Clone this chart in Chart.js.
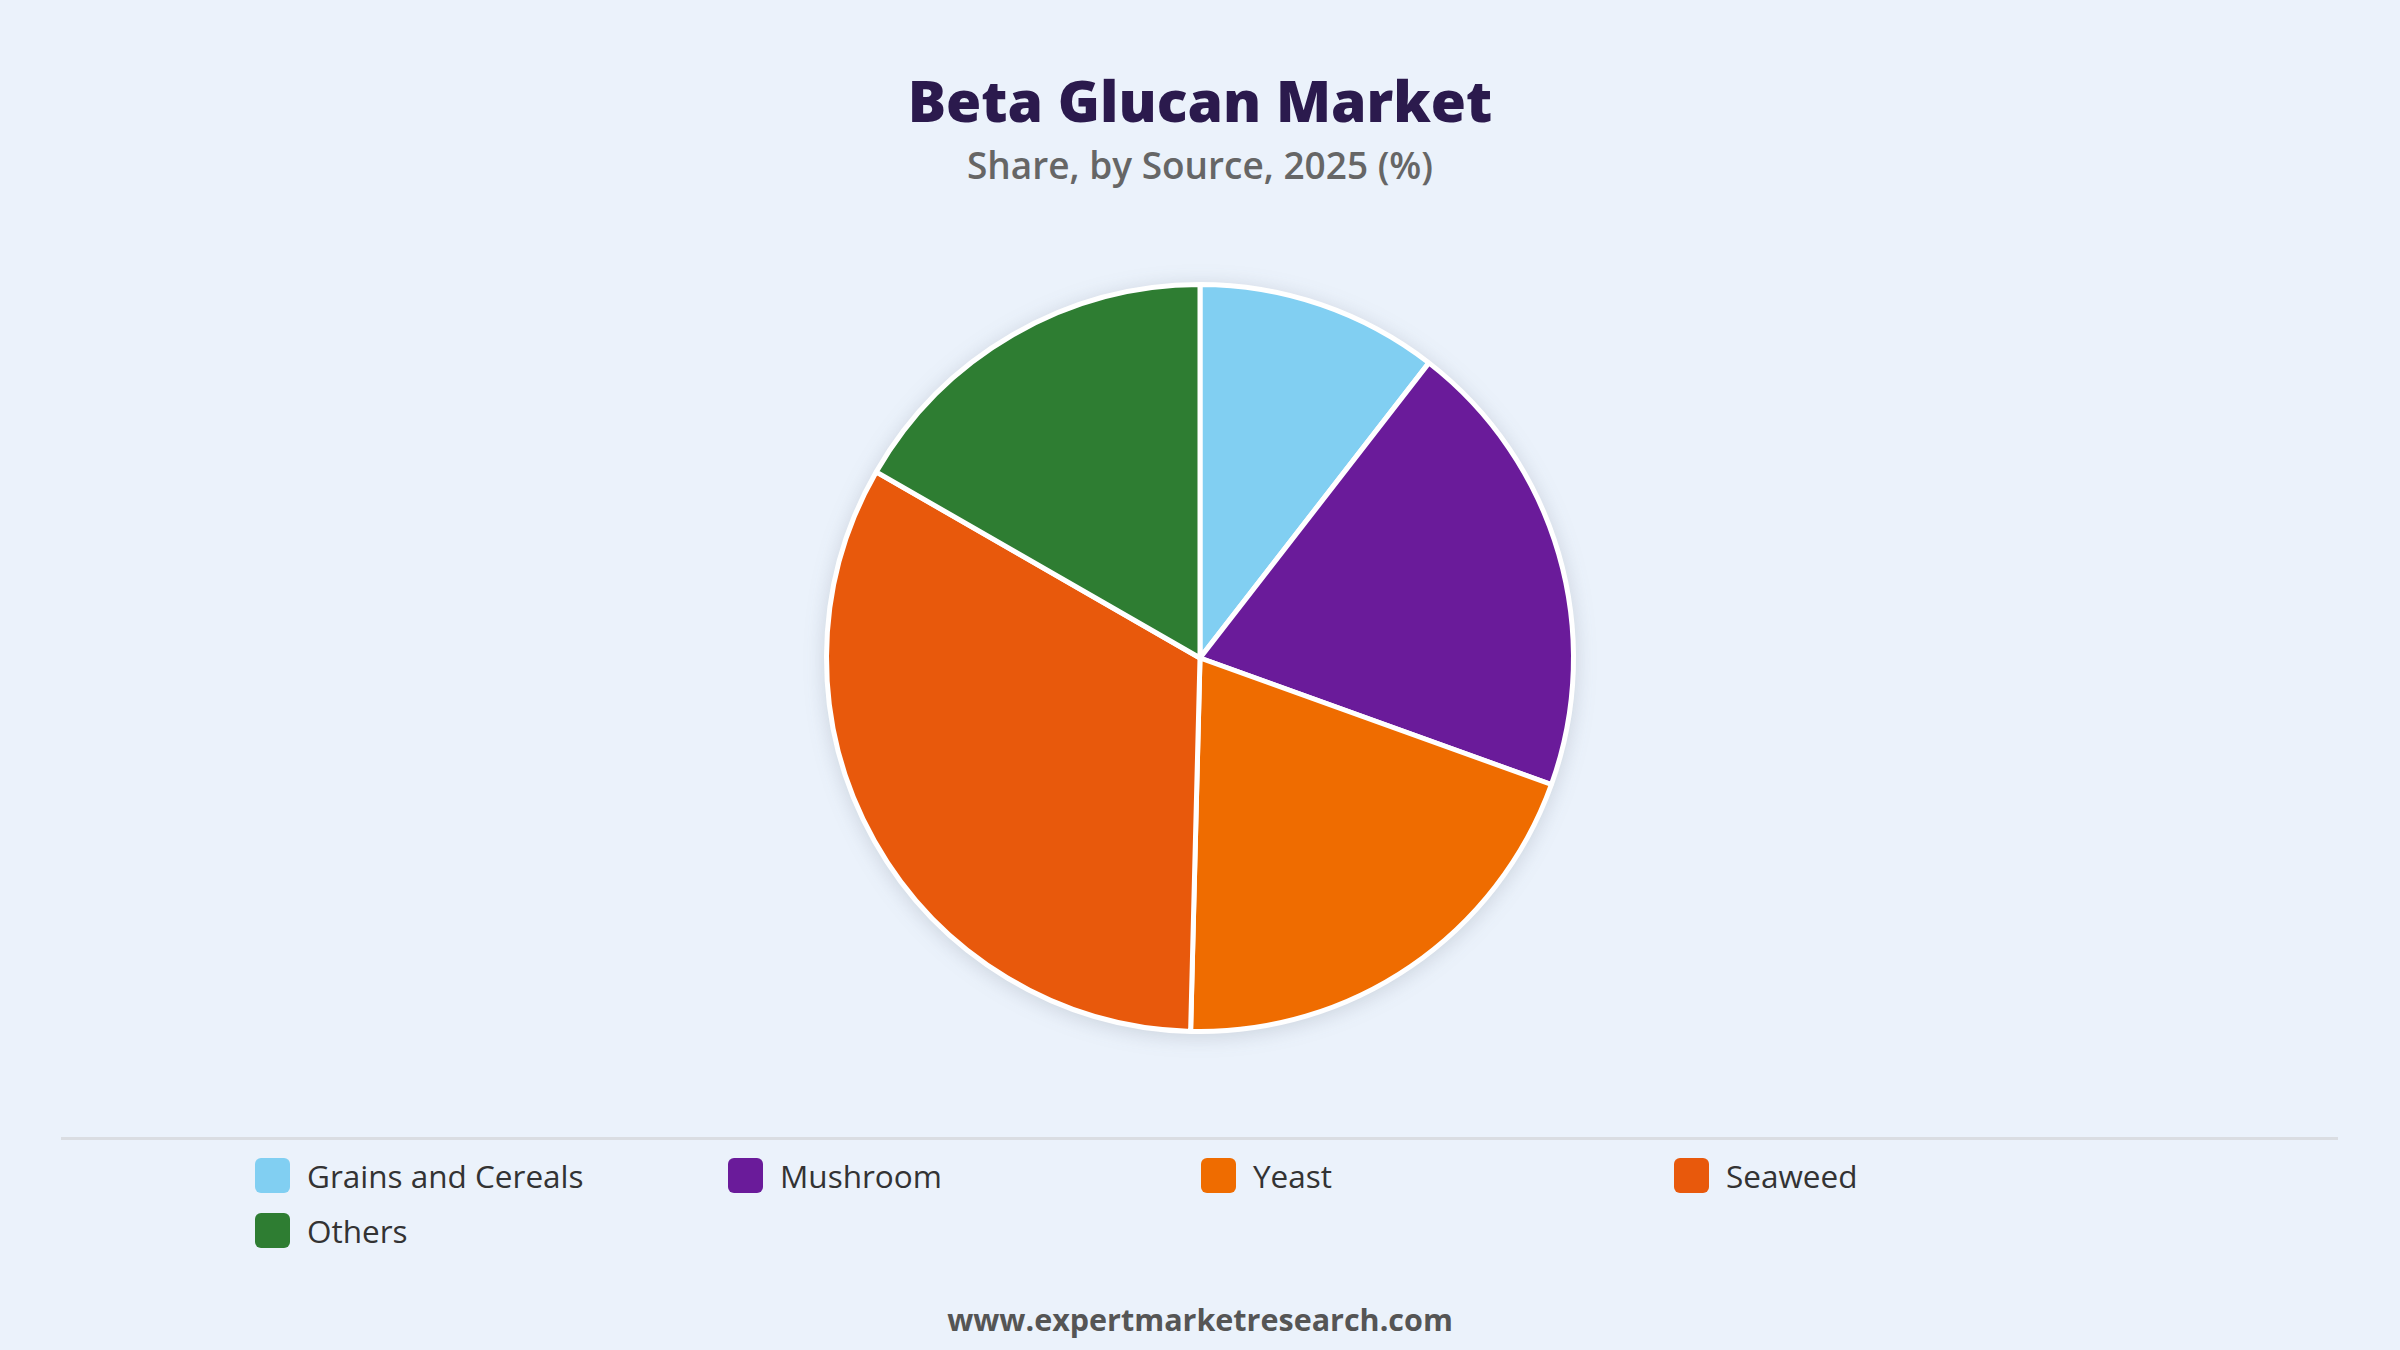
<!DOCTYPE html>
<html>
<head>
<meta charset="utf-8">
<script src="https://cdn.jsdelivr.net/npm/chart.js@4.4.1/dist/chart.umd.min.js"></script>
<style>
  html, body { margin:0; padding:0; }
  body { width:2400px; height:1350px; background:#ebf2fb; position:relative; overflow:hidden; font-family:"Open Sans","Noto Sans",sans-serif; }
  #title { position:absolute; left:0; width:2400px; top:62px; text-align:center; font-weight:800; font-size:57px; color:#2b1a4d; line-height:76px; }
  #subtitle { position:absolute; left:0; width:2400px; top:141px; text-align:center; font-size:37px; font-weight:600; color:#666; line-height:48px; }
  #chartWrap { position:absolute; left:0; top:262px; width:2400px; height:792px; }
  #chartWrap canvas { filter: drop-shadow(0 3px 10px rgba(60,70,90,0.18)); }
  #sep { position:absolute; left:61px; width:2277px; top:1137px; height:3px; background:#dadde2; }
  #legend { position:absolute; left:255px; top:1155px; display:grid; grid-template-columns:repeat(4, 473px); row-gap:15px; }
  .item { display:flex; align-items:center; height:40px; font-size:31.5px; color:#333; }
  .box { width:35px; height:35px; border-radius:6px; margin-right:17px; flex:none; }
  #footer { position:absolute; left:0; width:2400px; top:1297px; text-align:center; font-weight:700; font-size:30.5px; color:#555; line-height:44px; }
</style>
</head>
<body>
<div id="title">Beta Glucan Market</div>
<div id="subtitle">Share, by Source, 2025 (%)</div>
<div id="chartWrap"><canvas id="c"></canvas></div>
<div id="sep"></div>
<div id="legend"></div>
<div id="footer">www.expertmarketresearch.com</div>
<script>
const categories = ["Grains and Cereals", "Mushroom", "Yeast", "Seaweed", "Others"];
const shares = [10.5, 20.0, 19.9, 32.9, 16.7];
const colors = ["#81cff2", "#6a1b9a", "#ef6c00", "#e8590c", "#2e7d32"];

const chart = new Chart(document.getElementById('c'), {
  type: 'pie',
  data: {
    labels: categories,
    datasets: [{ data: shares, backgroundColor: colors, borderColor: '#ffffff', borderWidth: 5 }]
  },
  options: {
    responsive: true,
    maintainAspectRatio: false,
    animation: false,
    layout: { padding: 20 },
    plugins: { legend: { display: false }, tooltip: { enabled: false } }
  }
});

const legend = document.getElementById('legend');
chart.data.labels.forEach((lab, i) => {
  const it = document.createElement('div');
  it.className = 'item';
  const b = document.createElement('span');
  b.className = 'box';
  b.style.background = chart.data.datasets[0].backgroundColor[i];
  const t = document.createElement('span');
  t.textContent = lab;
  it.appendChild(b); it.appendChild(t);
  legend.appendChild(it);
});
</script>
</body>
</html>
